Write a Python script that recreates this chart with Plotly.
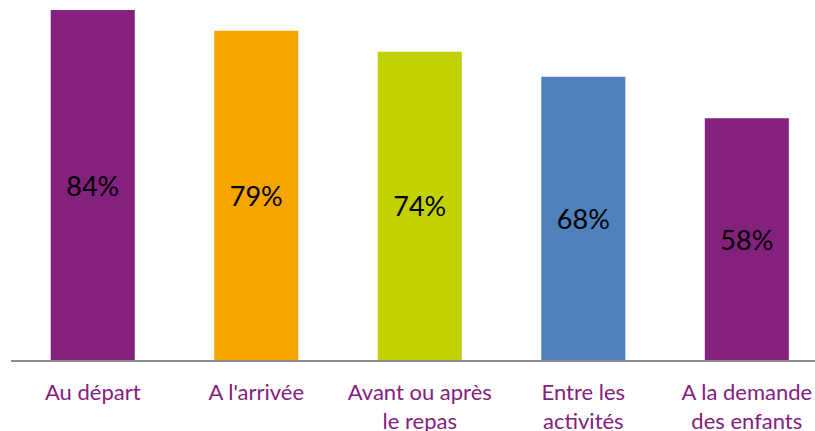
import plotly.graph_objects as go

categories = ["Au départ", "A l'arrivée", "Avant ou après<br>le repas", "Entre les<br>activités", "A la demande<br>des enfants"]
values = [84, 79, 74, 68, 58]
labels = ["84%", "79%", "74%", "68%", "58%"]
colors = ["#84207E", "#F6A500", "#C3D100", "#4F81BD", "#84207E"]

fig = go.Figure()
fig.add_trace(go.Bar(
    x=list(range(len(categories))),
    y=values,
    text=labels,
    textposition='inside',
    insidetextanchor='middle',
    textangle=0,
    textfont=dict(family='Lato', size=27, color='black'),
    marker=dict(color=colors, line=dict(width=0)),
    width=0.514,
    cliponaxis=False,
))

fig.update_layout(
    width=815, height=431,
    margin=dict(l=11, r=0, t=10, b=71, autoexpand=False),
    plot_bgcolor='white',
    paper_bgcolor='white',
    showlegend=False,
    uniformtext=dict(mode=False),
    xaxis=dict(
        range=[-0.5, 4.417],
        tickmode='array',
        tickvals=list(range(len(categories))),
        ticktext=categories,
        tickfont=dict(family='Lato', size=22, color='#84207E'),
        ticks='outside', ticklen=12, tickcolor='white',
        showline=True, linecolor='#8C8C8C', linewidth=2,
        showgrid=False, zeroline=False,
        automargin=False,
    ),
    yaxis=dict(
        range=[0, 84],
        visible=False,
        showgrid=False, zeroline=False,
        automargin=False,
    ),
)

# page body has a default 8px margin; remove it so the figure fills the window
fig.write_html("out.html", config={'displayModeBar': False},
               post_script="document.body.style.margin='0';")
